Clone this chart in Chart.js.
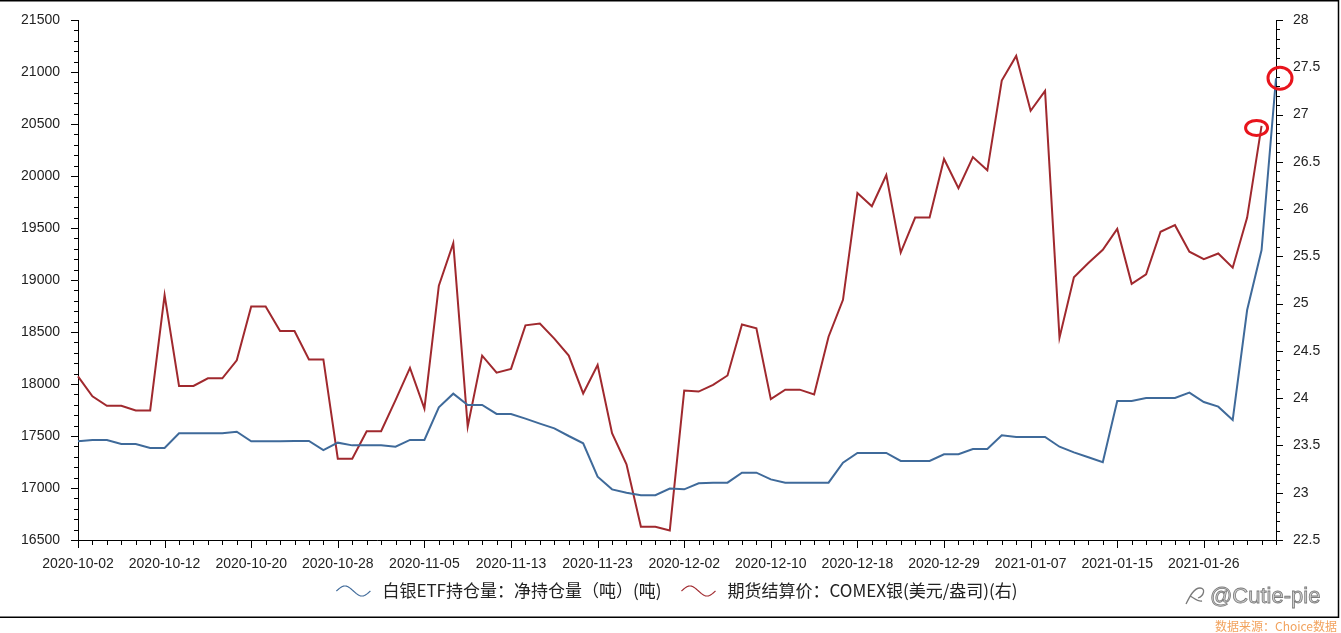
<!DOCTYPE html>
<html>
<head>
<meta charset="utf-8">
<script src="https://cdn.jsdelivr.net/npm/chart.js@4"></script>
<style>
  html, body { margin: 0; padding: 0; background: #fff; }
  #wrap { width: 1341px; height: 633px; position: relative; }
</style>
</head>
<body>
<div id="wrap"><canvas id="silverChart" width="1341" height="633"></canvas></div>
<script>
// trading days (US calendar)
const dates = [
  '2020-10-02', '2020-10-05', '2020-10-06', '2020-10-07', '2020-10-08', '2020-10-09',
  '2020-10-12', '2020-10-13', '2020-10-14', '2020-10-15', '2020-10-16', '2020-10-19',
  '2020-10-20', '2020-10-21', '2020-10-22', '2020-10-23', '2020-10-26', '2020-10-27',
  '2020-10-28', '2020-10-29', '2020-10-30', '2020-11-02', '2020-11-03', '2020-11-04',
  '2020-11-05', '2020-11-06', '2020-11-09', '2020-11-10', '2020-11-11', '2020-11-12',
  '2020-11-13', '2020-11-16', '2020-11-17', '2020-11-18', '2020-11-19', '2020-11-20',
  '2020-11-23', '2020-11-24', '2020-11-25', '2020-11-27', '2020-11-30', '2020-12-01',
  '2020-12-02', '2020-12-03', '2020-12-04', '2020-12-07', '2020-12-08', '2020-12-09',
  '2020-12-10', '2020-12-11', '2020-12-14', '2020-12-15', '2020-12-16', '2020-12-17',
  '2020-12-18', '2020-12-21', '2020-12-22', '2020-12-23', '2020-12-24', '2020-12-28',
  '2020-12-29', '2020-12-30', '2020-12-31', '2021-01-04', '2021-01-05', '2021-01-06',
  '2021-01-07', '2021-01-08', '2021-01-11', '2021-01-12', '2021-01-13', '2021-01-14',
  '2021-01-15', '2021-01-19', '2021-01-20', '2021-01-21', '2021-01-22', '2021-01-25',
  '2021-01-26', '2021-01-27', '2021-01-28', '2021-01-29', '2021-02-01', '2021-02-02'
];

// 白银ETF持仓量 (吨), left axis
const etfHoldings = [
  17449, 17462, 17462, 17423, 17423, 17385, 17385, 17526, 17526, 17526, 17526, 17541,
  17449, 17449, 17449, 17452, 17452, 17365, 17436, 17410, 17410, 17410, 17397, 17462,
  17462, 17776, 17907, 17798, 17798, 17712, 17712, 17667, 17619, 17574, 17500, 17430,
  17109, 16987, 16955, 16930, 16930, 16994, 16987, 17045, 17051, 17051, 17147, 17147,
  17083, 17051, 17051, 17051, 17051, 17244, 17337, 17337, 17337, 17260, 17260, 17260,
  17324, 17324, 17375, 17375, 17507, 17490, 17490, 17490, 17397, 17343, 17295, 17247,
  17837, 17837, 17865, 17865, 17865, 17917, 17827, 17782, 17654, 18711, 19288, 20940
];

// COMEX银 结算价 (美元/盎司), right axis
const comexSilver = [
  24.23, 24.02, 23.92, 23.92, 23.87, 23.87, 25.09, 24.13, 24.13, 24.21, 24.21, 24.40,
  24.97, 24.97, 24.71, 24.71, 24.41, 24.41, 23.36, 23.36, 23.65, 23.65, 23.98, 24.32,
  23.89, 25.19, 25.64, 23.70, 24.45, 24.27, 24.31, 24.77, 24.79, 24.63, 24.45, 24.05,
  24.35, 23.63, 23.30, 22.64, 22.64, 22.60, 24.08, 24.07, 24.14, 24.24, 24.78, 24.74,
  23.99, 24.09, 24.09, 24.04, 24.65, 25.04, 26.17, 26.03, 26.36, 25.54, 25.91, 25.91,
  26.53, 26.22, 26.55, 26.41, 27.36, 27.62, 27.04, 27.25, 24.64, 25.28, 25.43, 25.57,
  25.79, 25.21, 25.31, 25.76, 25.83, 25.55, 25.47, 25.53, 25.38, 25.91, 26.88, null
];

const seriesNames = ['白银ETF持仓量：净持仓量（吨）(吨)', '期货结算价：COMEX银(美元/盎司)(右)'];
const seriesColors = ['#3f6a9a', '#a0292e'];

const numFont = '"Liberation Sans", Arial, sans-serif';
const cjkFont = '"Noto Sans CJK SC", "Liberation Sans", sans-serif';

// minor / major tick marks, legend, notes and frame
const decorPlugin = {
  id: 'decor',
  afterDraw(chart) {
    const ctx = chart.ctx;
    const x = chart.scales.x, y = chart.scales.y, y1 = chart.scales.y1;
    const area = chart.chartArea;
    ctx.save();
    ctx.strokeStyle = '#000';
    ctx.lineWidth = 1;
    ctx.beginPath();
    for (let i = 0; i < dates.length; i++) {
      const px = Math.round(x.getPixelForValue(i)) + 0.5;
      ctx.moveTo(px, area.bottom);
      ctx.lineTo(px, area.bottom + (i % 6 === 0 ? 8 : 5));
    }
    for (let v = 16500; v <= 21500; v += 100) {
      const py = Math.round(y.getPixelForValue(v)) + 0.5;
      ctx.moveTo(area.left - (v % 500 === 0 ? 7 : 4), py);
      ctx.lineTo(area.left, py);
    }
    for (let k = 225; k <= 280; k++) {
      const py = Math.round(y1.getPixelForValue(k / 10)) + 0.5;
      ctx.moveTo(area.right, py);
      ctx.lineTo(area.right + (k % 5 === 0 ? 7 : 4), py);
    }
    ctx.stroke();

    // red hand-drawn rings on the last points
    const lastB = etfHoldings.length - 1;
    const lastR = comexSilver.length - 2;
    ctx.strokeStyle = '#e8141c';
    ctx.lineWidth = 3;
    ctx.beginPath();
    ctx.ellipse(x.getPixelForValue(lastB) + 4, y.getPixelForValue(etfHoldings[lastB]), 12, 11, 0, 0, Math.PI * 2);
    ctx.stroke();
    ctx.beginPath();
    ctx.ellipse(x.getPixelForValue(lastR) - 5, y1.getPixelForValue(comexSilver[lastR]) + 2, 11, 7.5, 0, 0, Math.PI * 2);
    ctx.stroke();

    // legend
    ctx.font = '17px ' + cjkFont;
    ctx.textBaseline = 'middle';
    const waveW = 34, gap1 = 12, gap2 = 20;
    const widths = seriesNames.map(s => ctx.measureText(s).width);
    const total = widths[0] + widths[1] + 2 * (waveW + gap1) + gap2;
    let lx = (area.left + area.right) / 2 - total / 2;
    const ly = 591;
    seriesNames.forEach((name, k) => {
      ctx.strokeStyle = seriesColors[k];
      ctx.lineWidth = 1.2;
      ctx.beginPath();
      for (let t = 0; t <= waveW; t++) {
        const wy = ly - 5 * Math.sin((t / waveW) * Math.PI * 2);
        if (t === 0) ctx.moveTo(lx + t, wy);
        else ctx.lineTo(lx + t, wy);
      }
      ctx.stroke();
      ctx.fillStyle = '#222';
      ctx.fillText(name, lx + waveW + gap1, ly);
      lx += waveW + gap1 + widths[k] + gap2;
    });

    // watermark
    ctx.font = '22px ' + numFont;
    ctx.textAlign = 'left';
    ctx.fillStyle = '#cfcfcf';
    ctx.strokeStyle = '#7a7a7a';
    ctx.lineWidth = 0.8;
    ctx.fillText('@Cutie-pie', 1210, 597);
    ctx.strokeText('@Cutie-pie', 1210, 597);
    ctx.lineWidth = 1.3;
    ctx.beginPath();
    ctx.moveTo(1186, 604);
    ctx.bezierCurveTo(1190, 596, 1194, 588, 1200, 588);
    ctx.bezierCurveTo(1206, 588, 1204, 596, 1198, 598);
    ctx.moveTo(1190, 596);
    ctx.bezierCurveTo(1194, 598, 1198, 602, 1202, 601);
    ctx.stroke();

    // data source note
    ctx.font = '12px ' + cjkFont;
    ctx.textAlign = 'right';
    ctx.fillStyle = '#f2a35e';
    ctx.fillText('数据来源：Choice数据', 1337, 626);

    // outer frame
    ctx.strokeStyle = '#000';
    ctx.lineWidth = 1.5;
    ctx.strokeRect(-2, 0.75, 1340.5, 616.5);
    ctx.restore();
  }
};

const fitVertical = w => s => {
  s.width = w;
  s.paddingTop = 0;
  s.paddingBottom = 0;
};

const config = {
  type: 'line',
  data: {
    labels: dates,
    datasets: [{
      label: seriesNames[0],
      data: etfHoldings,
      yAxisID: 'y',
      borderColor: seriesColors[0],
      borderWidth: 2,
      pointRadius: 0,
      tension: 0
    }, {
      label: seriesNames[1],
      data: comexSilver,
      yAxisID: 'y1',
      borderColor: seriesColors[1],
      borderWidth: 2,
      pointRadius: 0,
      tension: 0
    }]
  },
  options: {
    responsive: false,
    animation: false,
    layout: { padding: { top: 20, bottom: 53, left: 0, right: 0 } },
    plugins: {
      legend: { display: false },
      tooltip: { enabled: false }
    },
    scales: {
      x: {
        offset: false,
        grid: { display: false, drawTicks: false },
        border: { display: true, color: '#000', width: 1 },
        ticks: {
          autoSkip: false,
          maxRotation: 0,
          padding: 16,
          color: '#222',
          font: { family: numFont, size: 14 },
          callback: (v, i) => (i % 6 === 0 ? dates[i] : '')
        },
        afterFit: s => { s.height = 40; }
      },
      y: {
        position: 'left',
        min: 16500,
        max: 21500,
        grid: { display: false, drawTicks: false },
        border: { display: true, color: '#000', width: 1 },
        ticks: {
          stepSize: 100,
          autoSkip: false,
          maxTicksLimit: 100,
          padding: 18,
          color: '#222',
          font: { family: numFont, size: 14 },
          callback: v => (v % 500 === 0 ? String(v) : '')
        },
        afterFit: fitVertical(78)
      },
      y1: {
        position: 'right',
        min: 22.5,
        max: 28,
        grid: { display: false, drawTicks: false },
        border: { display: true, color: '#000', width: 1 },
        ticks: {
          stepSize: 0.1,
          autoSkip: false,
          maxTicksLimit: 100,
          padding: 17,
          color: '#222',
          font: { family: numFont, size: 14 },
          callback: v => {
            const h = Math.round(v * 10);
            return h % 5 === 0 ? String(h / 10) : '';
          }
        },
        afterFit: fitVertical(65)
      }
    }
  },
  plugins: [decorPlugin]
};

const silverChart = new Chart(document.getElementById('silverChart'), config);
</script>
</body>
</html>
